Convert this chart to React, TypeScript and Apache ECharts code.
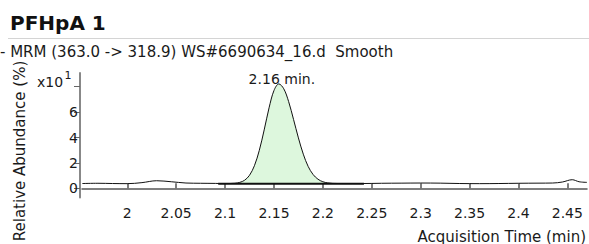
import React, { useEffect, useRef } from "react";
import * as echarts from "echarts";

const titleText = "PFHpA 1";
const subtitleText = "- MRM (363.0 -> 318.9) WS#6690634_16.d  Smooth";
const yAxisTitle = "Relative Abundance (%)";
const xAxisTitle = "Acquisition Time (min)";
const peakLabel = "2.16 min.";

const times = [
  1.954, 1.97, 1.985, 2.0, 2.015, 2.03, 2.045, 2.06, 2.075, 2.09, 2.095, 2.1, 2.105,
  2.11, 2.115, 2.12, 2.125, 2.13, 2.135, 2.14, 2.145, 2.15, 2.155, 2.16, 2.165, 2.17,
  2.175, 2.18, 2.185, 2.19, 2.195, 2.2, 2.205, 2.21, 2.22, 2.24, 2.26, 2.28, 2.3, 2.32,
  2.34, 2.36, 2.38, 2.4, 2.42, 2.435, 2.445, 2.455, 2.462, 2.47,
];
const abundance = [
  0.38, 0.4, 0.38, 0.37, 0.45, 0.6, 0.52, 0.42, 0.4, 0.39, 0.38, 0.38, 0.38,
  0.4, 0.47, 0.64, 1.03, 1.78, 2.99, 4.6, 6.34, 7.7, 8.22, 7.84, 6.83, 5.43,
  3.97, 2.69, 1.72, 1.09, 0.72, 0.52, 0.43, 0.39, 0.38, 0.38, 0.4, 0.41, 0.42, 0.41,
  0.38, 0.37, 0.38, 0.4, 0.41, 0.42, 0.5, 0.68, 0.52, 0.47,
];
const peakTime = 2.155;
const peakValue = 8.22;
const peakStart = 2.093;
const peakEnd = 2.242;
const peakBaseline = 0.37;

const xTicks = [2, 2.05, 2.1, 2.15, 2.2, 2.25, 2.3, 2.35, 2.4, 2.45];
const yTicks = [0, 2, 4, 6, 8];
const yLabels = [0, 2, 4, 6];
const xMin = 1.9537;
const xMax = 2.4701;
const yMin = -0.72;
const yMax = 9.08;

const FONT = "DejaVu Sans";

export default function App() {
  const ref = useRef<HTMLDivElement>(null);
  useEffect(() => {
    if (!ref.current) return;
    const chart = echarts.init(ref.current, undefined, { renderer: "svg" });
    const mainData = times.map((t, i) => [t, abundance[i]]);
    const peakData: number[][] = [[peakStart, peakBaseline]];
    times.forEach((t, i) => {
      if (t > peakStart && t < peakEnd) peakData.push([t, abundance[i]]);
    });
    peakData.push([peakEnd, peakBaseline]);

    chart.setOption({
      animation: false,
      textStyle: { fontFamily: FONT },
      grid: { left: 82, right: 2, top: 73, bottom: 46.5 },
      xAxis: {
        type: "value",
        min: xMin,
        max: xMax,
        splitLine: { show: false },
        axisLine: { show: true, lineStyle: { color: "#555", width: 1.5 } },
        axisTick: {
          show: true,
          inside: true,
          length: 5,
          customValues: xTicks,
          lineStyle: { color: "#555", width: 1.5 },
        },
        axisLabel: {
          customValues: xTicks,
          margin: 8,
          fontSize: 14,
          color: "#1a1a1a",
          fontFamily: FONT,
        },
      },
      yAxis: {
        type: "value",
        min: yMin,
        max: yMax,
        offset: 2,
        splitLine: { show: false },
        axisLine: { show: true, lineStyle: { color: "#888", width: 2 } },
        axisTick: {
          show: true,
          length: 6,
          customValues: yTicks,
          lineStyle: { color: "#666", width: 1 },
        },
        axisLabel: {
          customValues: yLabels,
          margin: 2,
          fontSize: 14,
          color: "#1a1a1a",
          fontFamily: FONT,
        },
      },
      series: [
        {
          type: "line",
          data: peakData,
          symbol: "none",
          smooth: 0.35,
          lineStyle: { opacity: 0, width: 0 },
          areaStyle: { color: "#ddf7dd", opacity: 1, origin: peakBaseline },
          z: 1,
        },
        {
          type: "line",
          data: [
            [peakStart, peakBaseline],
            [peakEnd, peakBaseline],
          ],
          symbol: "none",
          lineStyle: { color: "#111", width: 2 },
          z: 2,
        },
        {
          type: "line",
          data: mainData,
          symbol: "none",
          smooth: 0.35,
          lineStyle: { color: "#111", width: 1 },
          z: 3,
          markPoint: {
            symbol: "circle",
            symbolSize: 1,
            itemStyle: { color: "transparent" },
            label: {
              show: true,
              position: "inside",
              offset: [3, -5],
              formatter: peakLabel,
              fontSize: 14,
              color: "#1a1a1a",
              fontFamily: FONT,
            },
            data: [{ coord: [peakTime, peakValue] }],
          },
        },
      ],
      graphic: [
        {
          type: "text",
          left: 10,
          top: 13,
          style: {
            text: titleText,
            font: `bold 20px ${FONT}`,
            fill: "#111",
          },
        },
        {
          type: "line",
          shape: { x1: 8, y1: 38.5, x2: 589, y2: 38.5 },
          style: { stroke: "#d4d4d4", lineWidth: 1 },
        },
        {
          type: "text",
          x: 0,
          y: 52,
          style: {
            text: subtitleText,
            font: `15px ${FONT}`,
            fill: "#1a1a1a",
            verticalAlign: "middle",
          },
        },
        {
          type: "text",
          x: 37,
          y: 75,
          style: { text: "x10", font: `14px ${FONT}`, fill: "#1a1a1a" },
        },
        {
          type: "text",
          x: 64.5,
          y: 70,
          style: { text: "1", font: `11px ${FONT}`, fill: "#1a1a1a" },
        },
        {
          type: "text",
          x: 20,
          y: 151,
          rotation: Math.PI / 2,
          style: {
            text: yAxisTitle,
            font: `15px ${FONT}`,
            fill: "#1a1a1a",
            align: "center",
            verticalAlign: "middle",
          },
        },
        {
          type: "text",
          x: 586,
          y: 229,
          style: {
            text: xAxisTitle,
            font: `15px ${FONT}`,
            fill: "#1a1a1a",
            align: "right",
          },
        },
      ],
    });
    return () => chart.dispose();
  }, []);
  return (
    <div
      ref={ref}
      style={{ position: "absolute", left: 0, top: 0, width: 589, height: 244 }}
    />
  );
}
